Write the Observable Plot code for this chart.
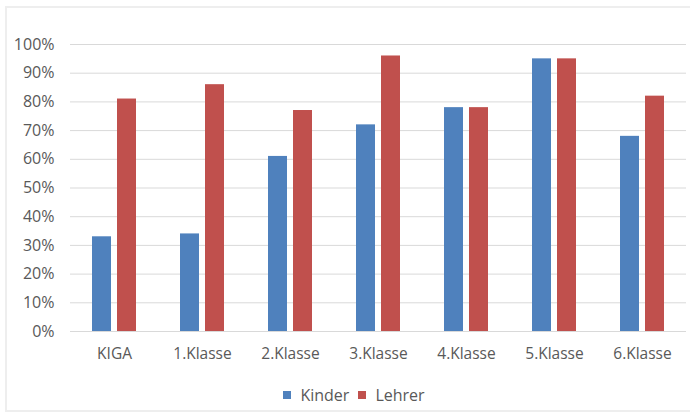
<!DOCTYPE html>
<html>
<head>
<meta charset="utf-8">
<script src="https://cdn.jsdelivr.net/npm/d3@7"></script>
<script src="https://cdn.jsdelivr.net/npm/@observablehq/plot@0.6"></script>
<style>
  html, body { margin: 0; padding: 0; background: #fff; }
  #wrap { position: relative; width: 690px; height: 416px; overflow: hidden; font-family: "Open Sans", sans-serif; }
  #frame { position: absolute; left: 5px; top: 6px; width: 700px; height: 406px; border: 2px solid #eeeeee; box-sizing: border-box; }
  #chart { position: absolute; left: 0; top: 0; }
  #legend { position: absolute; left: 0; top: 384px; width: 690px; display: flex; justify-content: center; gap: 9px; font-size: 16px; line-height: 22px; color: #595959; padding-left: 18px; box-sizing: border-box; }
  .item { display: flex; align-items: center; gap: 9px; }
  .sw { width: 8px; height: 8px; display: inline-block; }
</style>
</head>
<body>
<div id="wrap">
  <div id="frame"></div>
  <div id="chart"></div>
  <div id="legend"></div>
</div>
<script>
const categories = ["KIGA", "1.Klasse", "2.Klasse", "3.Klasse", "4.Klasse", "5.Klasse", "6.Klasse"];
const series = ["Kinder", "Lehrer"];
const kinder = [33, 34, 61, 72, 78, 95, 68];
const lehrer = [81, 86, 77, 96, 78, 95, 82];
const yTicks = [0, 10, 20, 30, 40, 50, 60, 70, 80, 90, 100];
const colors = ["#4f81bd", "#c0504d"];

const data = categories.flatMap((c, i) => [
  {category: c, series: series[0], value: kinder[i] / 100},
  {category: c, series: series[1], value: lehrer[i] / 100}
]);

const chart = Plot.plot({
  width: 690,
  height: 372,
  marginTop: 44,
  marginLeft: 68,
  marginRight: 3,
  marginBottom: 41,
  style: {fontFamily: "Open Sans, sans-serif", fontSize: "16px", color: "#595959", background: "transparent"},
  fx: {domain: categories, padding: 0, label: null, tickSize: 0, tickPadding: 16},
  x: {domain: series, paddingInner: 0.235, paddingOuter: 0.853, axis: null},
  y: {domain: [0, 1], ticks: yTicks.map(d => d / 100), tickFormat: d3.format(".0%"), label: null, tickSize: 0, tickPadding: 16},
  color: {domain: series, range: colors},
  marks: [
    Plot.ruleY(yTicks, {y: d => d / 100, stroke: "#d9d9d9", strokeWidth: 1}),
    Plot.barY(data, {fx: "category", x: "series", y: "value", fill: "series"})
  ]
});
document.getElementById("chart").appendChild(chart);
chart.querySelectorAll("[aria-label='fx-axis tick label'] text").forEach(t => t.style.fontSize = "15.5px");

const legend = document.getElementById("legend");
series.forEach((s, i) => {
  const item = document.createElement("span");
  item.className = "item";
  const sw = document.createElement("span");
  sw.className = "sw";
  sw.style.background = colors[i];
  const t = document.createElement("span");
  t.textContent = s;
  item.appendChild(sw);
  item.appendChild(t);
  legend.appendChild(item);
});
</script>
</body>
</html>
